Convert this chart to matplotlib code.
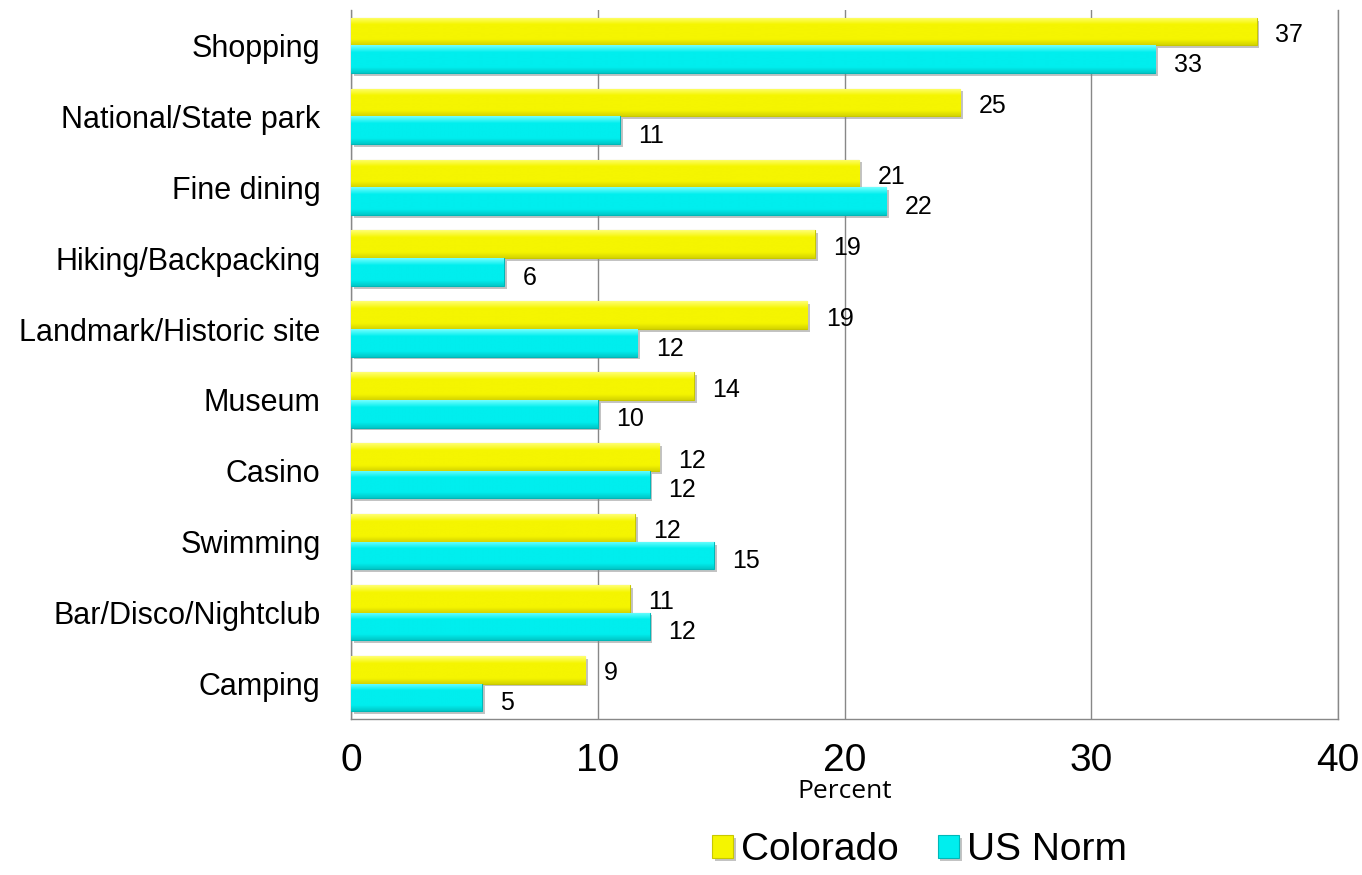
import matplotlib
matplotlib.use("Agg")
import matplotlib.pyplot as plt
import matplotlib.patheffects as pe
from matplotlib import font_manager
import numpy as np

categories = ["Shopping", "National/State park", "Fine dining", "Hiking/Backpacking",
              "Landmark/Historic site", "Museum", "Casino", "Swimming",
              "Bar/Disco/Nightclub", "Camping"]
colorado = [36.7, 24.7, 20.6, 18.8, 18.5, 13.9, 12.5, 11.5, 11.3, 9.5]
us_norm = [32.6, 10.9, 21.7, 6.2, 11.6, 10.0, 12.1, 14.7, 12.1, 5.3]
colorado_labels = ["37", "25", "21", "19", "19", "14", "12", "12", "11", "9"]
us_labels = ["33", "11", "22", "6", "12", "10", "12", "15", "12", "5"]
xticks = [0, 10, 20, 30, 40]

names = {f.name for f in font_manager.fontManager.ttflist}
if "Liberation Sans Narrow" in names:
    cat_font, cat_size = "Liberation Sans Narrow", 26
else:
    cat_font, cat_size = "Liberation Sans", 22

fig = plt.figure(figsize=(13.62, 8.75), dpi=100)
ax = fig.add_axes([0.2577, 0.1783, 0.7247, 0.8103])

n = len(categories)
y = np.arange(n)
h = 0.39
shadow = [pe.SimplePatchShadow(offset=(2, -2), shadow_rgbFace="#888888", alpha=0.5), pe.Normal()]
b1 = ax.barh(y - h / 2, colorado, height=h, color="#F5F500", edgecolor="#C8C800",
             linewidth=0.8, label="Colorado", zorder=3)
b2 = ax.barh(y + h / 2, us_norm, height=h, color="#00EEEE", edgecolor="#00B8B8",
             linewidth=0.8, label="US Norm", zorder=3)
for b in list(b1) + list(b2):
    b.set_path_effects(shadow)

# subtle bevel gradient on bars
def bevel(bars, light, base, dark):
    light, base, dark = (np.array(matplotlib.colors.to_rgb(c)) for c in (light, base, dark))
    t = np.linspace(0, 1, 32)
    cols = np.empty((32, 1, 3))
    for k, tt in enumerate(t):
        if tt < 0.25:
            c = light + (base - light) * tt / 0.25
        elif tt < 0.8:
            c = base
        else:
            c = base + (dark - base) * (tt - 0.8) / 0.2
        cols[k, 0] = c
    for b in bars:
        x0, y0 = b.get_x(), b.get_y()
        w, hh = b.get_width(), b.get_height()
        im = ax.imshow(cols, extent=(x0, x0 + w, y0 + hh, y0), aspect="auto",
                       interpolation="bilinear", zorder=3.5)
        im.set_clip_path(b)

bevel(b1, "#FFFF70", "#F5F500", "#D6D600")
bevel(b2, "#70FFFF", "#00EEEE", "#00CACA")

for i in range(n):
    ax.text(colorado[i] + 0.75, y[i] - h / 2 + 0.05, colorado_labels[i], ha="left", va="center",
            fontsize=18, family="Liberation Sans", zorder=4)
    ax.text(us_norm[i] + 0.75, y[i] + h / 2 + 0.08, us_labels[i], ha="left", va="center",
            fontsize=18, family="Liberation Sans", zorder=4)

ax.set_xlim(0, 40)
ax.set_ylim(n - 0.5, -0.5)
ax.set_xticks(xticks)
ax.set_xticklabels([str(t) for t in xticks], fontsize=28, family="Liberation Sans")
ax.set_yticks(y)
ax.set_yticklabels(categories, fontsize=cat_size, family=cat_font)
ax.tick_params(axis="both", length=0)
ax.tick_params(axis="x", pad=17)
ax.tick_params(axis="y", pad=22)
ax.grid(axis="x", color="#888888", linewidth=1.0, zorder=0)
ax.spines["top"].set_visible(False)
for s in ["left", "bottom", "right"]:
    ax.spines[s].set_color("#888888")
    ax.spines[s].set_linewidth(1.0)

ax.set_xlabel("Percent", fontsize=19, family="Open Sans", labelpad=0)

leg = fig.legend(handles=[b1, b2], labels=["Colorado", "US Norm"], loc="center",
                 bbox_to_anchor=(0.675, 0.028), ncol=2, frameon=False,
                 prop={"family": "Liberation Sans", "size": 28},
                 handlelength=0.55, handleheight=0.55, handletextpad=0.2, columnspacing=1.0)

fig.savefig("out.png", dpi=100)
